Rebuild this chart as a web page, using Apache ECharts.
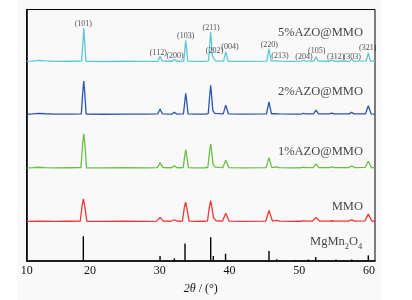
<!DOCTYPE html>
<html>
<head>
<meta charset="utf-8">
<script src="https://cdn.jsdelivr.net/npm/echarts@6/dist/echarts.min.js"></script>
<style>
  html, body { margin: 0; padding: 0; background: #fff; }
  #chart { width: 412px; height: 300px; }
</style>
</head>
<body>
<div id="chart"></div>
<script>
// x range of the frame, in 2theta degrees
var xMin = 10.92, xMax = 60.86;
var tickValues = [10.92, 20, 30, 40, 50, 60];
var tickLabels = ['10', '20', '30', '40', '50', '60'];

var sampleNames = ['5%AZO@MMO', '2%AZO@MMO', '1%AZO@MMO', 'MMO'];
var sampleColors = ['#5ec7d6', '#2d55b0', '#6bbf47', '#ee3535'];

// offset traces [2theta, intensity]
var trace5 = [[10.92,201.4],[11.8,201.8],[12.6,202.4],[13.6,202.0],[15,201.5],[17,201.6],[18.8,201.7],[19.02,225],[19.1,235.0],[19.2,225],[19.4,201.5],[22,201.3],[25,201.6],[28,201.4],[29.75,201.6],[30.04,206.6],[30.35,201.8],[31.8,201.6],[32.09,203.3],[32.4,201.6],[33.45,201.8],[33.64,217],[33.72,222.6],[33.82,217],[34.0,201.8],[35,201.5],[36.5,201.6],[37.0,202],[37.22,224],[37.3,231.0],[37.4,222],[37.55,207],[37.75,205.5],[38.0,201.8],[39.15,201.8],[39.46,211],[39.8,201.6],[42,201.4],[45.35,201.7],[45.66,214],[45.95,202],[46.5,201.9],[46.77,203.3],[47.1,201.7],[49,201.5],[50.3,201.7],[50.6,202.6],[50.9,201.7],[52.1,201.8],[52.4,206],[52.7,201.8],[54.3,201.6],[54.65,203],[55,201.6],[57.2,201.7],[57.5,203.5],[57.8,201.7],[59.6,201.9],[59.9,210],[60.2,201.7],[60.86,201.6]];
var trace2 = [[10.92,148.0],[11.8,148.5],[12.6,149.0],[13.6,148.6],[15,148.2],[17,148.3],[18.75,148.4],[18.98,172],[19.1,181.6],[19.22,172],[19.45,148.2],[22,148.1],[25,148.3],[28,148.2],[29.7,148.4],[30.04,153.3],[30.4,148.4],[31.75,148.3],[32.09,150],[32.45,148.3],[33.4,148.5],[33.62,163],[33.72,169.3],[33.84,163],[34.05,148.5],[35,148.2],[36.5,148.3],[36.95,148.8],[37.2,170],[37.3,177.3],[37.42,168],[37.6,152],[37.9,149],[39.1,148.5],[39.46,157.3],[39.85,148.4],[42,148.2],[45.3,148.4],[45.66,160.6],[46.0,148.6],[46.5,148.6],[46.77,149.6],[47.1,148.4],[49,148.2],[50.3,148.3],[50.6,149.1],[50.9,148.4],[52.05,148.5],[52.4,152.3],[52.75,148.5],[54.3,148.4],[54.65,149.3],[55,148.4],[57.15,148.5],[57.5,150],[57.85,148.5],[59.5,148.6],[59.9,156.6],[60.3,148.5],[60.86,148.3]];
var trace1 = [[10.92,93.8],[11.8,94.2],[12.6,94.6],[13.6,94.3],[15,94.0],[17,94.1],[18.7,94.2],[18.95,119],[19.1,128.3],[19.25,119],[19.5,94.0],[22,93.9],[25,94.1],[28,94.0],[29.65,94.2],[30.04,99.3],[30.45,94.2],[31.7,94.1],[32.09,96],[32.5,94.1],[33.35,94.3],[33.58,106],[33.72,112.3],[33.86,106],[34.1,94.3],[35,94.0],[36.5,94.1],[36.9,94.6],[37.15,111],[37.3,118.3],[37.45,110],[37.65,97.5],[37.95,94.8],[39.05,94.3],[39.46,101.6],[39.9,94.2],[42,94.0],[45.25,94.2],[45.66,104.3],[46.05,94.5],[46.45,94.4],[46.77,95],[47.1,94.2],[49,94.0],[50.3,94.1],[50.6,94.8],[50.9,94.2],[52.0,94.3],[52.4,98],[52.8,94.3],[54.3,94.2],[54.65,95],[55,94.2],[57.1,94.3],[57.5,96],[57.9,94.3],[59.45,94.4],[59.9,100.6],[60.35,94.3],[60.86,94.1]];
var traceMMO = [[10.92,39.9],[13,40.1],[15,40.0],[17,40.1],[18.6,40.2],[18.85,55],[19.05,62.6],[19.25,55],[19.55,40.0],[22,39.9],[25,40.1],[28,40.0],[29.55,40.2],[30.04,44],[30.5,40.2],[31.6,40.1],[32.09,41.6],[32.55,40.1],[33.25,40.3],[33.5,53],[33.7,59.3],[33.9,53],[34.2,40.3],[35,40.0],[36.5,40.1],[36.85,40.6],[37.1,54],[37.3,61],[37.5,53],[37.7,43.5],[38.1,40.6],[39.0,40.3],[39.46,48.3],[39.95,40.2],[42,40.0],[45.2,40.2],[45.66,51],[46.15,40.5],[46.4,40.4],[46.77,41],[47.15,40.2],[49,40.0],[50.3,40.1],[50.6,40.8],[50.95,40.2],[51.9,40.3],[52.4,44],[52.9,40.3],[54.25,40.2],[54.65,40.6],[55.05,40.2],[57.05,40.3],[57.5,41.6],[57.95,40.3],[59.4,40.4],[59.9,47.3],[60.4,40.3],[60.86,40.1]];
var traces = [trace5, trace2, trace1, traceMMO];

// MgMn2O4 reference sticks
var stickPos = [19.04, 30.04, 32.09, 33.62, 37.30, 37.68, 39.43, 45.66, 46.77, 49.49, 51.30, 52.36, 55.27, 57.52, 59.90];
var stickHeight = [25, 5, 2.7, 17.7, 24, 5, 7.3, 10, 1.7, 1, 1.5, 4, 1.5, 1.5, 5.7];

// hkl labels over the 5% trace
var hklNames = ['(101)','(112)','(200)','(103)','(211)','(202)','(004)','(220)','(213)','(204)','(105)','(312)','(303)','(321)'];
var hklX = [19.04, 29.8, 32.19, 33.72, 37.35, 37.83, 40.07, 45.71, 47.24, 50.68, 52.5, 55.22, 57.6, 59.81];
var hklY = [239, 210, 206.6, 227.3, 235, 211.6, 215.6, 218.3, 206.6, 206.3, 211.6, 206.3, 206.3, 215.3];

// sample name positions (right aligned)
var nameX = 59.14;
var nameY = [230, 170.6, 110.6, 55];
var refName = '{n|MgMn}{s|2}{n|O}{s|4}';
var refY = 19.3;

var serif = 'Liberation Serif';
var myChart = echarts.init(document.getElementById('chart'));

var series = traces.map(function (t, i) {
    return {
        name: sampleNames[i],
        type: 'line',
        data: t,
        symbol: 'none',
        lineStyle: { color: sampleColors[i], width: 1.3 },
        silent: true,
        z: 3
    };
});

series.push({
    name: 'MgMn2O4',
    type: 'bar',
    barWidth: 1.4,
    data: stickPos.map(function (x, i) { return [x, stickHeight[i]]; }),
    itemStyle: { color: '#000' },
    silent: true,
    z: 2
});

series.push({
    type: 'scatter',
    symbolSize: 0,
    data: hklX.map(function (x, i) { return { value: [x, hklY[i]], name: hklNames[i] }; }),
    label: {
        show: true, position: 'inside', formatter: '{b}',
        fontFamily: serif, fontSize: 8, color: '#222'
    },
    silent: true,
    z: 5
});

var nameData = nameY.map(function (y, i) { return { value: [nameX, y], name: sampleNames[i] }; });
nameData.push({ value: [nameX - 0.1, refY], name: 'ref' });
series.push({
    type: 'scatter',
    symbolSize: 0,
    data: nameData,
    label: {
        show: true, position: 'inside', align: 'right', verticalAlign: 'middle',
        fontFamily: serif, fontSize: 12.5, color: '#111',
        formatter: function (p) { return p.name === 'ref' ? refName : '{n|' + p.name + '}'; },
        rich: {
            n: { fontFamily: serif, fontSize: 12.5, color: '#111' },
            s: { fontFamily: serif, fontSize: 8.5, color: '#111', padding: [9, 0, 0, 0] }
        }
    },
    silent: true,
    z: 5
});

option = {
    animation: false,
    backgroundColor: '#fff',
    graphic: [{
        type: 'rect', z: -10, silent: true,
        shape: { x: 17, y: 0, width: 365, height: 300 },
        style: { fill: '#f9f9f9' }
    }],
    grid: {
        left: 26.7, right: 37, top: 9.5, bottom: 36.7,
        show: true, borderColor: '#000', borderWidth: 1, backgroundColor: 'transparent'
    },
    xAxis: {
        type: 'value',
        min: xMin,
        max: xMax,
        splitLine: { show: false },
        axisTick: { show: false },
        axisLine: { show: true, onZero: false, lineStyle: { color: '#000', width: 1.5 } },
        axisLabel: {
            customValues: tickValues,
            formatter: function (v) {
                var i = tickValues.indexOf(v);
                return i >= 0 ? tickLabels[i] : '';
            },
            fontFamily: serif, fontSize: 12, color: '#111', margin: 4
        },
        name: '{i|2θ} / (°)',
        nameLocation: 'middle',
        nameGap: 22,
        nameTextStyle: {
            fontFamily: serif, fontSize: 12, color: '#111',
            rich: { i: { fontFamily: serif, fontSize: 12, fontStyle: 'italic', color: '#111' } }
        }
    },
    yAxis: {
        type: 'value',
        min: 0,
        max: 253.8,
        axisLabel: { show: false },
        axisTick: { show: false },
        splitLine: { show: false },
        axisLine: { show: true, lineStyle: { color: '#000', width: 1.5 } }
    },
    series: series
};
myChart.setOption(option);
</script>
</body>
</html>
